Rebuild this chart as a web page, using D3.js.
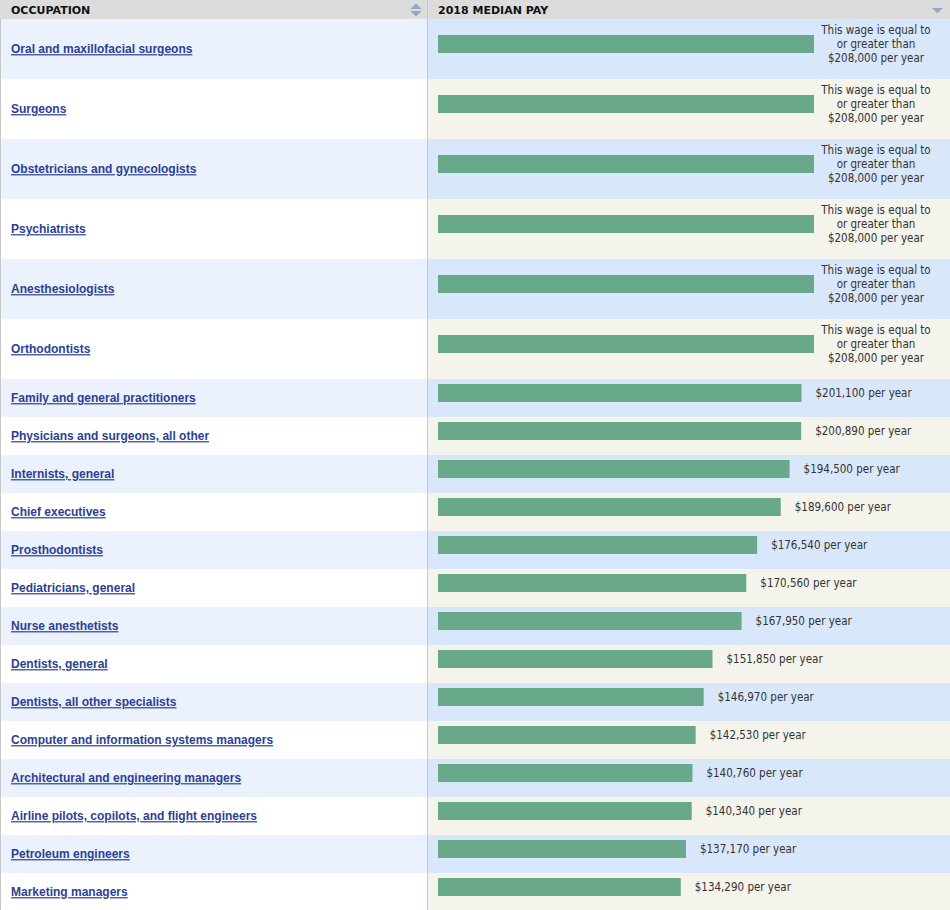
<!DOCTYPE html>
<html><head><meta charset="utf-8">
<script src="https://cdn.jsdelivr.net/npm/d3@7"></script>
<style>
html,body{margin:0;padding:0;background:#fff;}
svg{display:block;}
</style></head>
<body>
<svg id="chart" width="950" height="910"></svg>
<script>
const occupations = [
  "Oral and maxillofacial surgeons","Surgeons","Obstetricians and gynecologists","Psychiatrists",
  "Anesthesiologists","Orthodontists","Family and general practitioners","Physicians and surgeons, all other",
  "Internists, general","Chief executives","Prosthodontists","Pediatricians, general","Nurse anesthetists",
  "Dentists, general","Dentists, all other specialists","Computer and information systems managers",
  "Architectural and engineering managers","Airline pilots, copilots, and flight engineers",
  "Petroleum engineers","Marketing managers"
];
const medianPay = [208000,208000,208000,208000,208000,208000,201100,200890,194500,189600,176540,170560,167950,151850,146970,142530,140760,140340,137170,134290];
const topCoded = [true,true,true,true,true,true,false,false,false,false,false,false,false,false,false,false,false,false,false,false];
const headers = ["OCCUPATION","2018 MEDIAN PAY"];
const topCodedLines = ["This wage is equal to","or greater than","$208,000 per year"];

const svg = d3.select("#chart");
const W = 950, headerH = 19, splitX = 427, barX0 = 438;
const rowH = topCoded.map(t => t ? 60 : 38);
const rowY = [];
let acc = headerH;
rowH.forEach(h => { rowY.push(acc); acc += h; });

const x = d3.scaleLinear().domain([0, 208000]).range([0, 376]);
const fmt = d3.format("$,");

// header
svg.append("rect").attr("x",0).attr("y",0).attr("width",W).attr("height",headerH).attr("fill","#dcdcdc");

const rows = svg.selectAll("g.row").data(occupations).join("g").attr("class","row")
  .attr("transform",(d,i)=>`translate(0,${rowY[i]})`);

rows.append("rect").attr("x",0).attr("y",0).attr("width",splitX).attr("height",(d,i)=>rowH[i])
  .attr("fill",(d,i)=> i%2===0 ? "#ebf2fe" : "#ffffff");
rows.append("rect").attr("x",splitX).attr("y",0).attr("width",W-splitX).attr("height",(d,i)=>rowH[i])
  .attr("fill",(d,i)=> i%2===0 ? "#d9e7fb" : "#f4f4ec");

// labels
rows.append("text").attr("x",11).attr("y",(d,i)=>rowH[i]/2).attr("dy","0.35em")
  .attr("font-family","'Liberation Sans', Arial, sans-serif").attr("font-size","12px").attr("font-weight","bold")
  .attr("fill","#2c3f94").attr("text-decoration","underline").text(d=>d);

// bars
rows.append("rect").attr("x",barX0).attr("y",(d,i)=>rowH[i]/2-14).attr("height",18)
  .attr("width",(d,i)=>x(medianPay[i])).attr("fill","#67a98a");

// value labels
rows.each(function(d,i){
  const g = d3.select(this);
  const cy = rowH[i]/2 - 5;
  if (topCoded[i]) {
    const t = g.append("text").attr("text-anchor","middle").attr("x",876)
      .attr("font-family","'DejaVu Sans Condensed', 'DejaVu Sans', sans-serif").attr("font-size","11.5px").attr("fill","#333");
    topCodedLines.forEach((ln,k)=>{
      t.append("tspan").attr("x",876).attr("y",cy + (k-1)*14).attr("dy","0.35em").text(ln);
    });
  } else {
    g.append("text").attr("x",barX0 + x(medianPay[i]) + 14).attr("y",cy).attr("dy","0.35em")
      .attr("font-family","'DejaVu Sans Condensed', 'DejaVu Sans', sans-serif").attr("font-size","11.5px").attr("fill","#333")
      .text(fmt(medianPay[i]) + " per year");
  }
});

// separators
svg.append("line").attr("x1",splitX+0.5).attr("x2",splitX+0.5).attr("y1",0).attr("y2",910).attr("stroke","#c8c8c8");
svg.append("line").attr("x1",0.5).attr("x2",0.5).attr("y1",headerH).attr("y2",910).attr("stroke","#c8c8c8");

// header text
svg.append("text").attr("x",11).attr("y",10).attr("dy","0.35em")
  .attr("font-family","'DejaVu Sans', Verdana, sans-serif").attr("font-size","11px").attr("font-weight","bold")
  .attr("fill","#111").text(headers[0]);
svg.append("text").attr("x",438).attr("y",10).attr("dy","0.35em")
  .attr("font-family","'DejaVu Sans', Verdana, sans-serif").attr("font-size","11px").attr("font-weight","bold")
  .attr("fill","#111").text(headers[1]);

// sort icons
svg.append("path").attr("d","M410.5,9 L416,3.5 L421.5,9 Z").attr("fill","#8ba7c9");
svg.append("path").attr("d","M410.5,11 L416,16.5 L421.5,11 Z").attr("fill","#8ba7c9");
svg.append("path").attr("d","M932,8 L943,8 L937.5,13 Z").attr("fill","#8ba7c9");
</script>
</body></html>
